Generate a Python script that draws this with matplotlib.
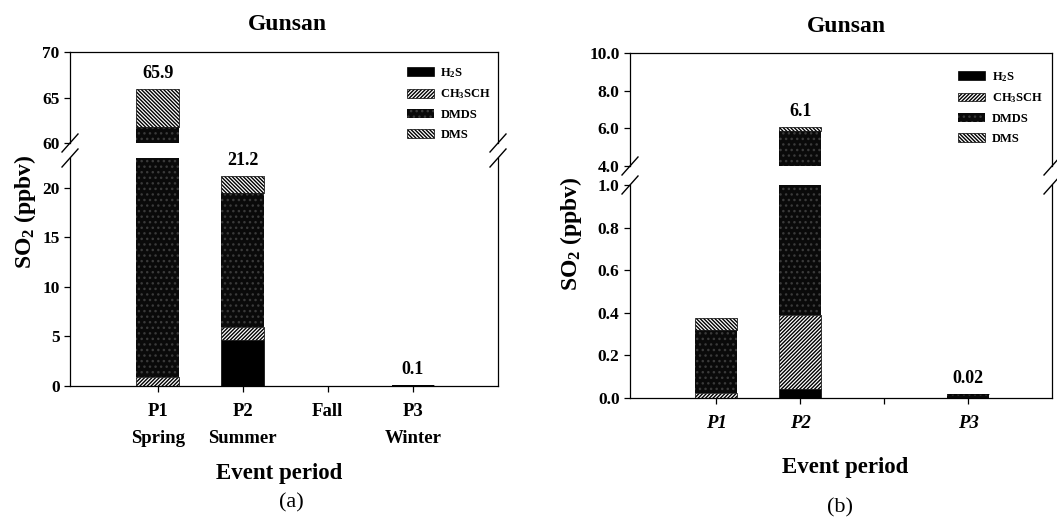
import matplotlib
matplotlib.use('Agg')
import matplotlib.pyplot as plt
from matplotlib.patches import Patch
from matplotlib.lines import Line2D
import numpy as np

# Daten (a) Jahreszeiten
periods_a = ['P1\nSpring', 'P2\nSummer', 'Fall', 'P3\nWinter']
h2s_a = [0.0, 4.6, 0.0, 0.0]
ch3sch_a = [0.9, 1.4, 0.0, 0.0]
dmds_a = [60.9, 13.5, 0.0, 0.1]
dms_a = [4.1, 1.7, 0.0, 0.0]
labels_a = ['65.9', '21.2', '', '0.1']

# Daten (b)
periods_b = ['P1', 'P2', '', 'P3']
h2s_b = [0.0, 0.04, 0.0, 0.0]
ch3sch_b = [0.025, 0.35, 0.0, 0.0]
dmds_b = [0.295, 5.46, 0.0, 0.02]
dms_b = [0.055, 0.2, 0.0, 0.0]
labels_b = ['', '6.1', '', '0.02']

species = ['H$_2$S', 'CH$_3$SCH', 'DMDS', 'DMS']

plt.rcParams['font.family'] = 'serif'
plt.rcParams['font.serif'] = ['Liberation Serif']
plt.rcParams['font.weight'] = 'bold'
plt.rcParams['mathtext.fontset'] = 'custom'
plt.rcParams['mathtext.rm'] = 'Liberation Serif:bold'
plt.rcParams['mathtext.it'] = 'Liberation Serif:italic:bold'
plt.rcParams['mathtext.bf'] = 'Liberation Serif:bold'
plt.rcParams['hatch.linewidth'] = 1.0
plt.rcParams['hatch.color'] = '#3a3a3a'
plt.rcParams['axes.linewidth'] = 0.9

W, H = 1057, 518
fig = plt.figure(figsize=(W / 100, H / 100), dpi=100)


def box(x0, y0, x1, y1):
    # Pixel -> Figurenkoordinaten
    return [x0 / W, 1 - y1 / H, (x1 - x0) / W, (y1 - y0) / H]


styles = [
    dict(color='black', edgecolor='black', linewidth=0.5),
    dict(color='white', edgecolor='black', hatch='/////////', linewidth=0.5),
    dict(color='#0a0a0a', hatch='...', linewidth=0),
    dict(color='white', edgecolor='black', hatch='\\\\\\\\\\\\\\\\\\', linewidth=0.5),
]


def stacked(ax, series, width=0.5):
    x = np.arange(len(series[0]))
    bottom = np.zeros(len(x))
    for vals, st in zip(series, styles):
        vals = np.array(vals)
        ax.bar(x, vals, width, bottom=bottom, **st)
        bottom = bottom + vals
    return x, bottom


def slash(x, y):
    dx, dy = 8 / W, 9 / H
    fig.add_artist(Line2D([x - dx, x + dx], [y - dy, y + dy],
                          transform=fig.transFigure, color='black', lw=1))


def ftext(px, py, s, **kw):
    fig.text(px / W, 1 - py / H, s, ha='center', va='center', **kw)


def panel(rect_top, rect_bot, series, ticklabels, labels, ylim_top, ylim_bot,
          yt_top, yt_bot, fmt, italic, leg_anchor):
    ax_t = fig.add_axes(box(*rect_top))
    ax_b = fig.add_axes(box(*rect_bot))
    for ax in (ax_t, ax_b):
        x, totals = stacked(ax, series)
        ax.set_xlim(-1.03, 4.0)
        ax.tick_params(direction='out', length=4, width=0.9, labelsize=12.5)
    ax_t.set_ylim(*ylim_top)
    ax_b.set_ylim(*ylim_bot)
    ax_t.set_yticks(yt_top)
    ax_b.set_yticks(yt_bot)
    ax_t.set_yticklabels([fmt % v for v in yt_top])
    ax_b.set_yticklabels([fmt % v for v in yt_bot])
    ax_t.spines['bottom'].set_visible(False)
    ax_b.spines['top'].set_visible(False)
    ax_t.set_xticks([])
    ax_b.set_xticks(x)
    ax_b.set_xticklabels(ticklabels, fontstyle='italic' if italic else 'normal',
                         linespacing=1.8, fontsize=13.5)
    ax_b.tick_params(axis='x', pad=8)

    # Summenwerte
    for xi, tot, lab in zip(x, totals, labels):
        if not lab:
            continue
        ax = ax_t if tot > ylim_top[0] else ax_b
        ax.annotate(lab, (xi, tot), xytext=(0, 5), textcoords='offset points',
                    ha='center', va='bottom', fontsize=13)

    handles = [Patch(facecolor=st['color'], edgecolor=st.get('edgecolor'),
                     hatch=st.get('hatch'), linewidth=st['linewidth'])
               for st in styles]
    ax_t.legend(handles, species, loc='upper left', bbox_to_anchor=leg_anchor,
                frameon=False, fontsize=9, handlelength=2.2, handleheight=0.7,
                labelspacing=0.62, handletextpad=0.5, borderaxespad=0)

    # Achsenbruch
    for xx in (rect_top[0], rect_top[2]):
        slash(xx / W, 1 - rect_top[3] / H)
        slash(xx / W, 1 - rect_bot[1] / H)


panel((70, 52, 498, 143), (70, 158, 498, 386),
      [h2s_a, ch3sch_a, dmds_a, dms_a], periods_a, labels_a,
      (60, 70), (0, 23), [60, 65, 70], [0, 5, 10, 15, 20], '%d', False,
      (0.775, 0.9))
ftext(287, 24, 'Gunsan', fontsize=17)
ftext(25, 212, 'SO$_2$ (ppbv)', rotation=90, fontsize=17)
ftext(279, 474, 'Event period', fontsize=16.5)
ftext(291, 503, '(a)', fontsize=16, fontweight='normal')

panel((630, 53, 1052, 166), (630, 185, 1052, 398),
      [h2s_b, ch3sch_b, dmds_b, dms_b], periods_b, labels_b,
      (4, 10), (0, 1.0), [4, 6, 8, 10], [0, 0.2, 0.4, 0.6, 0.8, 1.0], '%.1f',
      True, (0.765, 0.895))
ftext(846, 26, 'Gunsan', fontsize=17)
ftext(571, 234, 'SO$_2$ (ppbv)', rotation=90, fontsize=17)
ftext(845, 467, 'Event period', fontsize=16.5)
ftext(840, 508, '(b)', fontsize=16, fontweight='normal')

fig.savefig('out.png', dpi=100)
